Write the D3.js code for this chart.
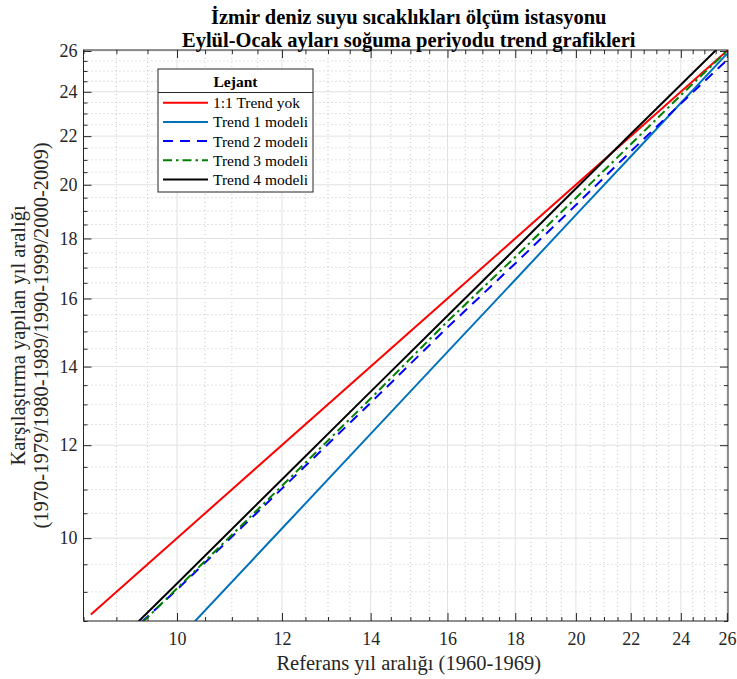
<!DOCTYPE html>
<html>
<head>
<meta charset="utf-8">
<script src="https://cdn.jsdelivr.net/npm/d3@7"></script>
<style>
  body { margin: 0; background: #fff; }
  svg { display: block; }
  text { font-family: "Liberation Serif", "Times New Roman", serif; fill: #262626; }
</style>
</head>
<body>
<svg id="canvas" width="737" height="679"></svg>
<script>
// Data (x: reference period, y: comparison period)
let trendYokX = [8.61, 26.05]
let trendYokY = [8.61, 26.05]

let trend1X = [10.3, 12, 14, 16, 18, 20, 22, 24, 26]
let trend1Y = [8.48, 10.19, 12.27, 14.41, 16.60, 18.85, 21.14, 23.48, 25.85]

let trend2X = [9.40, 10, 12, 14, 16, 18, 20, 22, 24, 26]
let trend2Y = [8.48, 9.04, 11.02, 13.04, 15.12, 17.14, 19.22, 21.35, 23.45, 25.54]

let trend3X = [9.42, 10, 12, 14, 16, 18, 20, 22, 24, 26]
let trend3Y = [8.48, 9.06, 11.08, 13.15, 15.3, 17.36, 19.49, 21.65, 23.84, 26.0]

let trend4X = [9.34, 10, 12, 14, 16, 18, 20, 22, 24, 26]
let trend4Y = [8.48, 9.15, 11.22, 13.33, 15.47, 17.64, 19.85, 22.09, 24.33, 26.6]

let majorTicks = [10, 12, 14, 16, 18, 20, 22, 24, 26]
let minorTicks = d3.range(8.5, 26.01, 0.5).filter(v => majorTicks.indexOf(v) < 0)

let legendLabels = ['1:1 Trend yok', 'Trend 1 modeli', 'Trend 2 modeli', 'Trend 3 modeli', 'Trend 4 modeli']

let series = [
    { name: legendLabels[0], xs: trendYokX, ys: trendYokY, color: '#ff0000', dash: null },
    { name: legendLabels[1], xs: trend1X, ys: trend1Y, color: '#0072bd', dash: null },
    { name: legendLabels[2], xs: trend2X, ys: trend2Y, color: '#0000ff', dash: '10,7' },
    { name: legendLabels[3], xs: trend3X, ys: trend3Y, color: '#008000', dash: '9,4,2.5,4' },
    { name: legendLabels[4], xs: trend4X, ys: trend4Y, color: '#000000', dash: null }
]

let canvas = d3.select('#canvas')

let pLeft = 83.5, pRight = 728, pTop = 50, pBottom = 621

let x = d3.scaleLog().domain([8.5, 26.05]).range([pLeft, pRight])
let y = d3.scaleLog().domain([8.5, 26.05]).range([pBottom, pTop])

// grid
let grid = canvas.append('g')
grid.selectAll('.minx').data(minorTicks).enter().append('line')
    .attr('x1', d => x(d)).attr('x2', d => x(d)).attr('y1', pTop).attr('y2', pBottom)
    .style('stroke', '#c4c4c4').style('stroke-width', 1).style('stroke-dasharray', '1,3')
grid.selectAll('.miny').data(minorTicks).enter().append('line')
    .attr('y1', d => y(d)).attr('y2', d => y(d)).attr('x1', pLeft).attr('x2', pRight)
    .style('stroke', '#c4c4c4').style('stroke-width', 1).style('stroke-dasharray', '1,3')
grid.selectAll('.majx').data(majorTicks).enter().append('line')
    .attr('x1', d => x(d)).attr('x2', d => x(d)).attr('y1', pTop).attr('y2', pBottom)
    .style('stroke', '#e1e1e1').style('stroke-width', 1)
grid.selectAll('.majy').data(majorTicks).enter().append('line')
    .attr('y1', d => y(d)).attr('y2', d => y(d)).attr('x1', pLeft).attr('x2', pRight)
    .style('stroke', '#e1e1e1').style('stroke-width', 1)

// lines
canvas.append('clipPath').attr('id', 'clip').append('rect')
    .attr('x', pLeft).attr('y', pTop).attr('width', pRight - pLeft).attr('height', pBottom - pTop)

let line = d3.line().x(d => x(d[0])).y(d => y(d[1]))

canvas.append('g').attr('clip-path', 'url(#clip)')
    .selectAll('path').data(series).enter().append('path')
    .attr('d', s => line(d3.zip(s.xs, s.ys)))
    .attr('fill', 'none')
    .style('stroke', s => s.color)
    .style('stroke-width', 2)
    .style('stroke-dasharray', s => s.dash)

// axes (ticks inward, box on)
let tickFmt = d3.format('d')
let axisStyle = g => {
    g.select('.domain').remove()
    g.selectAll('line').style('stroke', '#262626')
    g.selectAll('text').style('font-family', '"Liberation Serif", serif').style('font-size', '18px').style('fill', '#262626')
}
canvas.append('g').attr('transform', `translate(0,${pBottom})`)
    .call(d3.axisBottom(x).tickValues(majorTicks).tickFormat(tickFmt).tickSizeInner(-8).tickSizeOuter(0).tickPadding(11))
    .call(axisStyle)
canvas.append('g').attr('transform', `translate(0,${pBottom})`)
    .call(d3.axisBottom(x).tickValues(minorTicks).tickFormat('').tickSizeInner(-4).tickSizeOuter(0))
    .call(axisStyle)
canvas.append('g').attr('transform', `translate(0,${pTop})`)
    .call(d3.axisTop(x).tickValues(majorTicks).tickFormat('').tickSizeInner(-8).tickSizeOuter(0))
    .call(axisStyle)
canvas.append('g').attr('transform', `translate(0,${pTop})`)
    .call(d3.axisTop(x).tickValues(minorTicks).tickFormat('').tickSizeInner(-4).tickSizeOuter(0))
    .call(axisStyle)
canvas.append('g').attr('transform', `translate(${pLeft},0)`)
    .call(d3.axisLeft(y).tickValues(majorTicks).tickFormat(tickFmt).tickSizeInner(-8).tickSizeOuter(0).tickPadding(6))
    .call(axisStyle)
canvas.append('g').attr('transform', `translate(${pLeft},0)`)
    .call(d3.axisLeft(y).tickValues(minorTicks).tickFormat('').tickSizeInner(-4).tickSizeOuter(0))
    .call(axisStyle)
canvas.append('g').attr('transform', `translate(${pRight},0)`)
    .call(d3.axisRight(y).tickValues(majorTicks).tickFormat('').tickSizeInner(-8).tickSizeOuter(0))
    .call(axisStyle)
canvas.append('g').attr('transform', `translate(${pRight},0)`)
    .call(d3.axisRight(y).tickValues(minorTicks).tickFormat('').tickSizeInner(-4).tickSizeOuter(0))
    .call(axisStyle)

canvas.append('rect')
    .attr('x', pLeft).attr('y', pTop).attr('width', pRight - pLeft).attr('height', pBottom - pTop)
    .attr('fill', 'none').style('stroke', '#262626').style('stroke-width', 1)

// titles
let cx = (pLeft + pRight) / 2 + 3
canvas.append('text').attr('x', cx).attr('y', 24).attr('text-anchor', 'middle')
    .style('font-size', '20.5px').style('font-weight', 'bold').style('fill', '#000')
    .text('İzmir deniz suyu sıcaklıkları ölçüm istasyonu')
canvas.append('text').attr('x', cx).attr('y', 46.5).attr('text-anchor', 'middle')
    .style('font-size', '20.5px').style('font-weight', 'bold').style('fill', '#000')
    .text('Eylül-Ocak ayları soğuma periyodu trend grafikleri')

canvas.append('text').attr('x', cx).attr('y', 670).attr('text-anchor', 'middle')
    .style('font-size', '20.5px')
    .text('Referans yıl aralığı (1960-1969)')

let ylab = canvas.append('g').attr('transform', `translate(25,${(pTop + pBottom) / 2}) rotate(-90)`)
ylab.append('text').attr('x', 0).attr('y', 0).attr('text-anchor', 'middle')
    .style('font-size', '20.5px').text('Karşılaştırma yapılan yıl aralığı')
ylab.append('text').attr('x', 0).attr('y', 23).attr('text-anchor', 'middle')
    .style('font-size', '20.5px').text('(1970-1979/1980-1989/1990-1999/2000-2009)')

// legend
let lg = canvas.append('g').attr('transform', 'translate(158,69)')
lg.append('rect').attr('width', 155).attr('height', 123)
    .attr('fill', '#fff').style('stroke', '#262626').style('stroke-width', 1)
lg.append('line').attr('x1', 0).attr('x2', 155).attr('y1', 23.5).attr('y2', 23.5)
    .style('stroke', '#262626').style('stroke-width', 1)
lg.append('text').attr('x', 77.5).attr('y', 18).attr('text-anchor', 'middle')
    .style('font-size', '15.5px').style('font-weight', 'bold').style('fill', '#000').text('Lejant')
let items = lg.selectAll('.item').data(series).enter().append('g')
    .attr('transform', (d, i) => `translate(0,${33.7 + i * 19.2})`)
items.append('line').attr('x1', 5).attr('x2', 50).attr('y1', 0).attr('y2', 0)
    .style('stroke', d => d.color).style('stroke-width', 2)
    .style('stroke-dasharray', d => d.dash)
items.append('text').attr('x', 55).attr('y', 5.5)
    .style('font-size', '15.5px').style('fill', '#000').text(d => d.name)
</script>
</body>
</html>
